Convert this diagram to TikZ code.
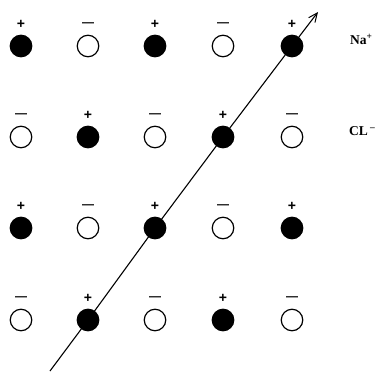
\documentclass[tikz,border=0pt]{standalone}
\usepackage{fontspec}
\setmainfont{Liberation Serif}
\newfontfamily\signfont{Liberation Sans}
\usetikzlibrary{arrows.meta}
\begin{document}
\begin{tikzpicture}[x=1pt,y=-1pt,
  ion/.style={circle,draw=black,line width=1.2pt,minimum size=21.5pt,inner sep=0pt},
  cation/.style={ion,fill=black},
  anion/.style={ion,fill=white},
  plussign/.style={inner sep=0pt,font=\signfont\bfseries\fontsize{14}{14}\selectfont},
  minussign/.style={inner sep=0pt,font=\signfont\bfseries\fontsize{12}{12}\selectfont},
  lbl/.style={anchor=base west,inner sep=0pt,font=\bfseries\fontsize{13.5}{14}\selectfont},
  axisline/.style={line width=1.1pt,-{Straight Barb[length=9pt,width=8pt,line width=1pt]}}]
\useasboundingbox (0,0) rectangle (379,371);
% lattice of ions: + are filled, - are open
\foreach \r/\y in {1/46,2/137,3/228,4/320}{
  \foreach \c/\x in {1/21,2/88,3/155,4/223,5/292}{
    \pgfmathtruncatemacro{\s}{mod(\r+\c,2)}
    \ifnum\s=0
      \node[cation] (c\r\c) at (\x,\y) {};
      \node[plussign] (s\r\c) at (\x,\y-22) {+};
    \else
      \node[anion] (c\r\c) at (\x,\y) {};
      \node[minussign] (s\r\c) at (\x,\y-21.5) {—};
    \fi
  }
}
% labels
\node[lbl] (na) at (350,45) {Na\textsuperscript{+}};
\node[lbl] (cl) at (349,136) {CL\,\textsuperscript{--}};
% direction through the diagonal of cations
\coordinate (start) at (50,371);
\coordinate (tip) at (318,12);
\draw[axisline] (start) -- (c42.center) -- (c33.center) -- (c24.center) -- (c15.center) -- (tip);
\end{tikzpicture}
\end{document}
